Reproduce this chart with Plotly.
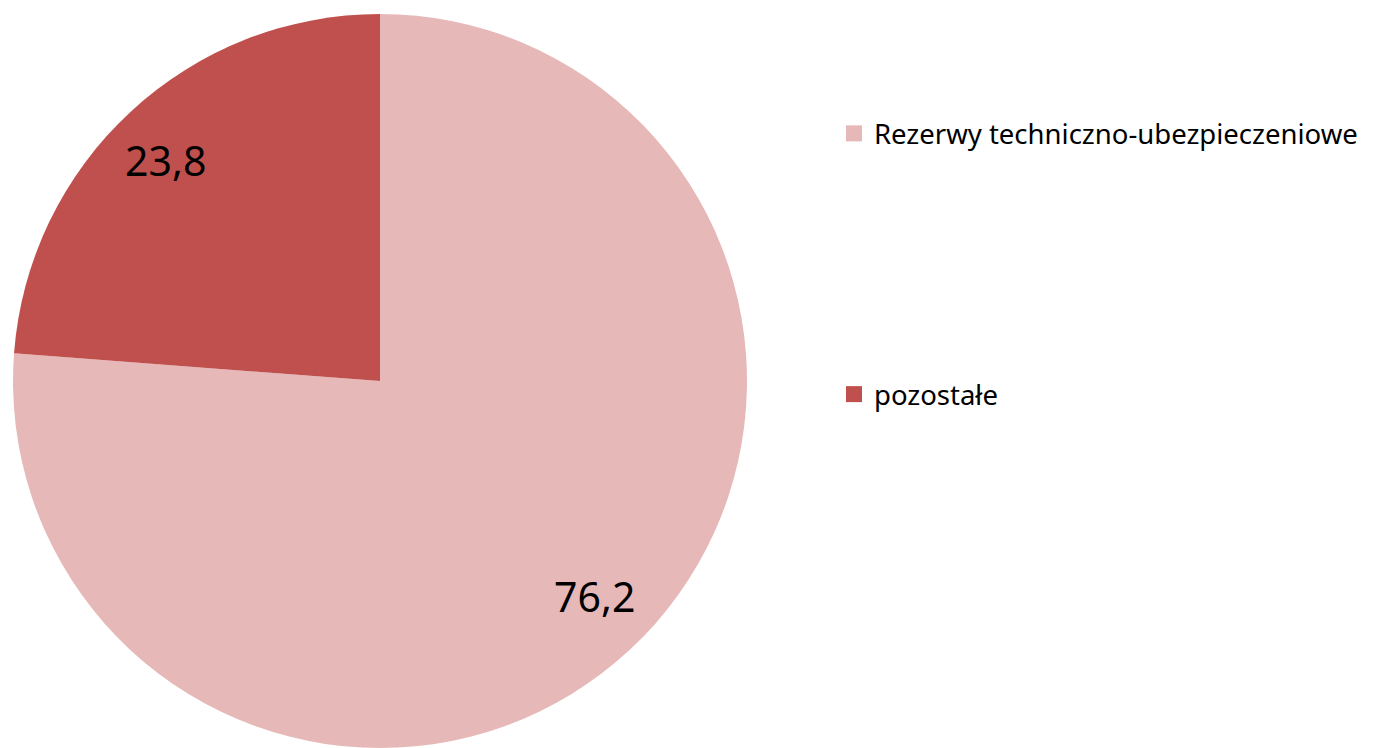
import math
import plotly.graph_objects as go

labels = ["Rezerwy techniczno-ubezpieczeniowe", "pozostałe"]
values = [76.2, 23.8]
value_text = ["76,2", "23,8"]
colors = ["#E6B9B8", "#C0504D"]

W, H = 1373, 748
# page has an 8px body margin, so figure coordinates are page coordinates - 8
cx_px, cy_px, r_px = 372, 373, 367

fig = go.Figure()
fig.add_trace(go.Pie(
    labels=labels, values=values, sort=False, direction="clockwise", rotation=0,
    marker=dict(colors=colors, line=dict(width=0)),
    textinfo="none", showlegend=False, hoverinfo="label+value",
    domain=dict(x=[(cx_px - r_px) / W, (cx_px + r_px) / W],
                y=[(H - cy_px - r_px) / H, (H - cy_px + r_px) / H]),
))

# data labels placed near the mid-angle of each slice
total = sum(values)
start = 0.0
for v, t in zip(values, value_text):
    mid = (start + v / 2) / total * 2 * math.pi - math.radians(1.7)
    start += v
    rr = 0.835 * r_px
    x = (cx_px + rr * math.sin(mid)) / W
    y = (H - cy_px + rr * math.cos(mid) + 3) / H
    fig.add_annotation(x=x, y=y, xref="paper", yref="paper", text=t, showarrow=False,
                       font=dict(family="Noto Sans", size=41, color="#000000"),
                       xanchor="center", yanchor="middle")

# legend entries
for i, (lab, col) in enumerate(zip(labels, colors)):
    fig.add_trace(go.Scatter(x=[None], y=[None], mode="markers", name=lab,
                             legendgroup=f"g{i}",
                             marker=dict(symbol="square", size=17, color=col)))

fig.update_layout(
    width=W, height=H, margin=dict(l=0, r=0, t=0, b=0),
    paper_bgcolor="white", plot_bgcolor="white",
    xaxis=dict(visible=False), yaxis=dict(visible=False),
    legend=dict(x=826 / W, y=1 - 101 / H, xanchor="left", yanchor="top",
                font=dict(family="Noto Sans", size=27.5, color="#000000"),
                tracegroupgap=222, bgcolor="rgba(0,0,0,0)"),
)
fig.write_html("out.html")
